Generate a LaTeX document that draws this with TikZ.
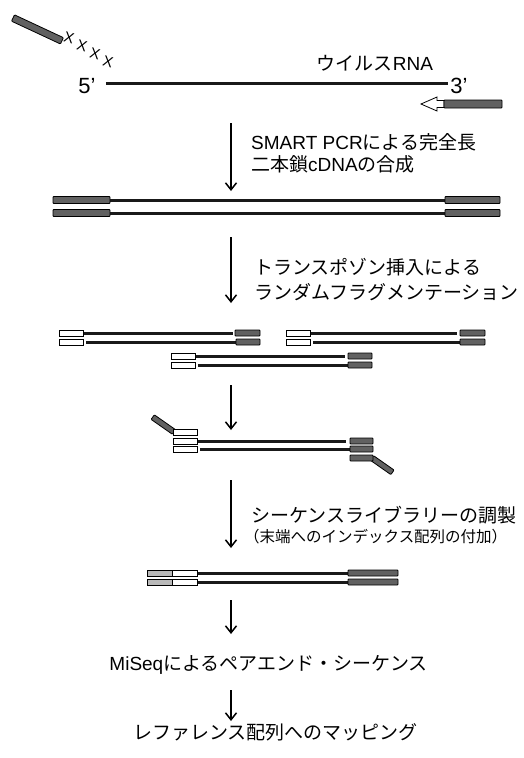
\documentclass[tikz,border=0pt]{standalone}
\usepackage{fontspec}
\newfontfamily\jp{Noto Sans CJK JP}
\newfontfamily\lat{Liberation Sans}
\usetikzlibrary{arrows.meta}
\definecolor{bargray}{gray}{0.38}
\definecolor{strandcol}{gray}{0.1}
\begin{document}
\begin{tikzpicture}[x=1pt,y=-1pt,
  lbl/.style={font=\jp\fontsize{19}{22}\selectfont, inner sep=0pt, anchor=west},
  smalllbl/.style={font=\jp\fontsize{15.5}{18}\selectfont, inner sep=0pt, anchor=west},
  endlbl/.style={font=\lat\fontsize{22}{22}\selectfont, inner sep=0pt},
  xlbl/.style={font=\lat\fontsize{15}{15}\selectfont, inner sep=0pt, rotate=-15},
  flow/.style={line width=1.5pt, -{Straight Barb[length=7pt,width=11pt,line width=1.5pt]}},
  strand/.style={line width=3pt, draw=strandcol},
  endbar/.style={draw=black, line width=0.8pt, fill=bargray, rounded corners=0.8pt},
  adapt/.style={draw=black, line width=0.8pt, fill=white},
  idx/.style={draw=black, line width=0.8pt, fill=gray!55},
]
\useasboundingbox (0,0) rectangle (524,758);

% ---------- viral RNA ----------
\begin{scope}[shift={(13,18)}, rotate=-25]
  \draw[endbar] (0,-3.5) rectangle (54,3.5);
\end{scope}
\node[xlbl] (x1) at (69,38) {X};
\node[xlbl] (x2) at (82,46) {X};
\node[xlbl] (x3) at (95,54) {X};
\node[xlbl] (x4) at (108,62) {X};
\node[lbl, anchor=center] (rna) at (375,63) {ウイルス{\lat RNA}};
\node[endlbl] (p5) at (87,86) {5’};
\node[endlbl] (p3) at (459,86) {3’};
\draw[strand] ([xshift=10pt]p5.east |- 0,83) -- ([xshift=-2pt]p3.west |- 0,83);
\draw[adapt] (421,104) -- (437,97) -- (437,100.5) -- (444,100.5) -- (444,107.5) -- (437,107.5) -- (437,111) -- cycle;
\draw[endbar] (444,100) rectangle (502,108);

% ---------- arrow 1 ----------
\coordinate (a1s) at (231,123);
\coordinate (a1e) at (231,191);
\draw[flow] (a1s) -- (a1e);
\node[lbl] (t1a) at (251,142) {{\lat SMART PCR}による完全長};
\node[lbl] (t1b) at (251,164) {二本鎖{\lat cDNA}の合成};

% ---------- full-length dsDNA ----------
\foreach \yy in {200,213}{
  \draw[strand] (105,\yy) -- (450,\yy);
  \draw[endbar] (53,\yy-3.5) rectangle (110,\yy+3.5);
  \draw[endbar] (445,\yy-3.5) rectangle (500,\yy+3.5);
}

% ---------- arrow 2 ----------
\coordinate (a2s) at (231,237);
\coordinate (a2e) at (231,303);
\draw[flow] (a2s) -- (a2e);
\node[lbl] (t2a) at (254,267) {トランスポゾン挿入による};
\node[lbl] (t2b) at (254,292) {ランダムフラグメンテーション};

% ---------- fragments ----------
% left pair
\draw[strand] (83,333) -- (233,333);
\draw[adapt] (59,330) rectangle (83,336);
\draw[endbar] (235,330) rectangle (260,336);
\draw[strand] (86,342) -- (237,342);
\draw[adapt] (59,339) rectangle (83,345);
\draw[endbar] (236,339) rectangle (260,345);
% right pair
\draw[strand] (310,333) -- (457,333);
\draw[adapt] (286,330) rectangle (310,336);
\draw[endbar] (460,330) rectangle (485,336);
\draw[strand] (313,342) -- (461,342);
\draw[adapt] (286,339) rectangle (310,345);
\draw[endbar] (460,339) rectangle (485,345);
% centre pair
\draw[strand] (195,356) -- (345,356);
\draw[adapt] (171,353) rectangle (195,359);
\draw[endbar] (348,353) rectangle (372,359);
\draw[strand] (198,365) -- (349,365);
\draw[adapt] (171,362) rectangle (195,368);
\draw[endbar] (348,362) rectangle (372,368);

% ---------- arrow 3 ----------
\coordinate (a3s) at (231,385);
\coordinate (a3e) at (231,430);
\draw[flow] (a3s) -- (a3e);

% ---------- primer annealing ----------
\begin{scope}[shift={(174,432)}, rotate=145]
  \draw[endbar] (0,-2.8) rectangle (26,2.8);
\end{scope}
\draw[adapt] (173,429) rectangle (197,435);
\draw[strand] (197,441) -- (346,441);
\draw[adapt] (173,438) rectangle (197,444);
\draw[endbar] (350,438) rectangle (373,444);
\draw[strand] (200,449) -- (351,449);
\draw[adapt] (173,446) rectangle (197,452);
\draw[endbar] (350,446) rectangle (373,452);
\begin{scope}[shift={(372,458)}, rotate=-35]
  \draw[endbar] (0,-2.8) rectangle (25,2.8);
\end{scope}
\draw[endbar] (350,455) rectangle (373,461);

% ---------- arrow 4 ----------
\coordinate (a4s) at (231,480);
\coordinate (a4e) at (231,548);
\draw[flow] (a4s) -- (a4e);
\node[lbl] (t4a) at (251,515) {シーケンスライブラリーの調製};
\node[smalllbl] (t4b) at (244,537) {（末端へのインデックス配列の付加）};

% ---------- library ----------
\foreach \yy in {573,582}{
  \draw[strand] (197,\yy) -- (350,\yy);
  \draw[idx] (147,\yy-3) rectangle (172,\yy+3);
  \draw[adapt] (172,\yy-3) rectangle (197,\yy+3);
  \draw[endbar] (348,\yy-3) rectangle (398,\yy+3);
}

% ---------- arrow 5 ----------
\coordinate (a5s) at (231,600);
\coordinate (a5e) at (231,634);
\draw[flow] (a5s) -- (a5e);
\node[lbl, anchor=east] (t5) at (428,665) {{\lat MiSeq}によるペアエンド・シーケンス};

% ---------- arrow 6 ----------
\coordinate (a6s) at (231,690);
\coordinate (a6e) at (231,721);
\draw[flow] (a6s) -- (a6e);
\node[lbl, anchor=east] (t6) at (418,732) {レファレンス配列へのマッピング};
\end{tikzpicture}
\end{document}
